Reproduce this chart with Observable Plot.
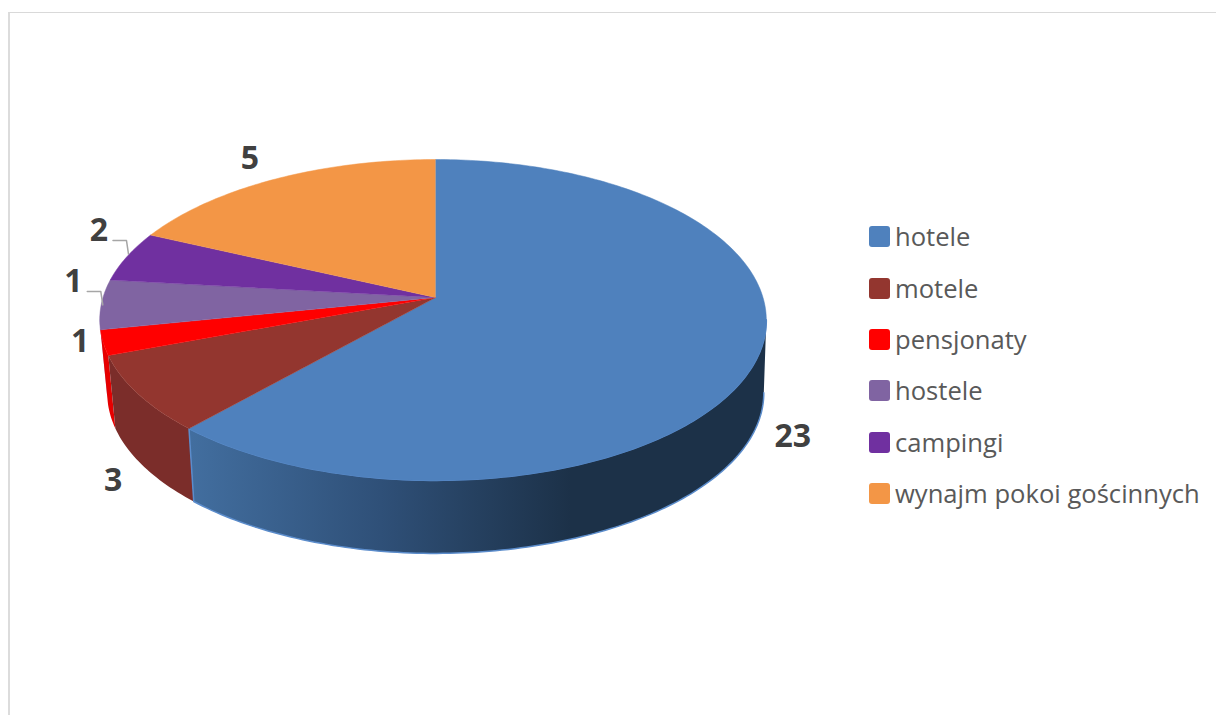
<!DOCTYPE html>
<html>
<head>
<meta charset="utf-8">
<script src="https://cdn.jsdelivr.net/npm/d3@7"></script>
<script src="https://cdn.jsdelivr.net/npm/@observablehq/plot@0.6"></script>
<style>
html,body{margin:0;padding:0;background:#fff;overflow:hidden}
#wrap{position:relative;width:1216px;height:715px;overflow:hidden}
#wrap svg{display:block;position:absolute;left:0;top:0;background:transparent}
#frame{position:absolute;left:8px;top:12px;right:-4px;bottom:-4px;border-left:2px solid #dcdcdc;border-top:1px solid #d9d9d9}
#legend{position:absolute;left:869px;top:211px;font-family:"Open Sans",sans-serif;font-size:25.6px;color:#595959}
#legend .row{height:51.4px;display:flex;align-items:center;white-space:nowrap}
#legend .sw{width:21px;height:21px;border-radius:3px;margin-right:5px;flex:none}
</style>
</head>
<body>
<div id="wrap"><div id="frame"></div><div id="legend"></div></div>
<script>
// Data
const categories = ["hotele", "motele", "pensjonaty", "hostele", "campingi", "wynajm pokoi gościnnych"];
const printedLabels = [23, 3, 1, 1, 2, 5];
const sliceShares = [61.6, 7.7, 2.5, 5.0, 5.1, 18.1]; // share of the pie drawn, %
const colors = ["#4f81bd", "#93362f", "#ff0000", "#8064a2", "#7030a0", "#f39646"];

// Layout of the tilted pie
const W = 1216, H = 715;
const pie = {cx: 435, cy: 297, R: 330, S: 157.3, k: 0.14, lean: 2.5, depth: 73, shrink: 0.985};
const labelOffsets = [[35, 80], [-25, 87], [-23, -1], [-28, -23], [-28, -26], [-26, -20]];
const leaderElbow = [[14, 10], [27.5, 10], [29.5, 23.5]];

const rad = d => d * Math.PI / 180;
function disc(t) {
  const u = Math.sin(rad(t)), v = Math.cos(rad(t)), d = 1 + pie.k * v;
  return [pie.cx + pie.R * u / d, pie.cy - pie.S * v / d, u];
}
function rim(t) {
  const [x, y, u] = disc(t);
  return [x - pie.lean * u * u, y];
}
function floor(t) {
  const [x, y] = disc(t);
  return [pie.cx + (x - pie.cx) * pie.shrink, y + pie.depth];
}
function arc(f, a, b) {
  const n = Math.max(2, Math.ceil(Math.abs(b - a)));
  return d3.range(n + 1).map(i => f(a + (b - a) * i / n));
}

const total = d3.sum(sliceShares);
let acc = 0;
const slices = categories.map((name, i) => {
  const a = acc / total * 360;
  acc += sliceShares[i];
  return {name, i, a, b: acc / total * 360, label: printedLabels[i]};
});

const topPts = slices.flatMap(s =>
  [[pie.cx, pie.cy], ...arc(rim, s.a, s.b)].map(([x, y]) => ({x, y, name: s.name})));

const wall = (a, b) => [...arc(rim, a, b), ...arc(floor, b, a)].map(([x, y]) => ({x, y}));

const labelRows = slices.map((s, i) => {
  const [x, y] = rim((s.a + s.b) / 2);
  return {x: x + labelOffsets[i][0], y: y + labelOffsets[i][1], label: s.label, i};
});
// grey elbow leaders for the two small labels that have them
const leaders = [3, 4].flatMap(i => {
  const l = labelRows[i];
  return leaderElbow.map(([dx, dy]) => ({x: l.x + dx, y: l.y + dy, z: i}));
});

const defs = () => {
  const svg = document.createElementNS("http://www.w3.org/2000/svg", "defs");
  svg.innerHTML = `<linearGradient id="blueSide" gradientUnits="userSpaceOnUse" x1="190" x2="570" y1="0" y2="0">
    <stop offset="0" stop-color="#426e9f"/><stop offset="0.5" stop-color="#2f5078"/><stop offset="1" stop-color="#1c3148"/></linearGradient>`;
  return svg;
};

const [hotel, motel, pens, hostel] = slices;
const chart = Plot.plot({
  width: W, height: H, margin: 0,
  x: {domain: [0, W], range: [0, W], axis: null},
  y: {domain: [0, H], range: [0, H], axis: null},
  color: {domain: categories, range: colors},
  style: {background: "transparent"},
  marks: [
    defs,
    Plot.line(wall(hostel.a, hostel.a + 7), {x: "x", y: "y", fill: "#a99cc9"}),
    Plot.line(wall(pens.a, pens.b), {x: "x", y: "y", fill: "#e60000"}),
    Plot.line(wall(motel.a, motel.b), {x: "x", y: "y", fill: "#7b2d2a"}),
    Plot.line(wall(98, hotel.b), {x: "x", y: "y", fill: "url(#blueSide)", stroke: "#5b8ccb", strokeWidth: 1.5}),
    Plot.line(topPts, {x: "x", y: "y", z: "name", fill: "name", stroke: "name", strokeWidth: 0.5}),
    Plot.line(leaders, {x: "x", y: "y", z: "z", stroke: "#a6a6a6", strokeWidth: 1.5}),
    Plot.text(labelRows, {x: "x", y: "y", text: "label", fill: "#404040",
      fontFamily: "Open Sans", fontWeight: 700, fontSize: 32})
  ]
});
document.getElementById("wrap").appendChild(chart);

const legend = d3.select("#legend");
categories.forEach((c, i) => {
  const row = legend.append("div").attr("class", "row");
  row.append("span").attr("class", "sw").style("background", colors[i]);
  row.append("span").text(c);
});
</script>
</body>
</html>
